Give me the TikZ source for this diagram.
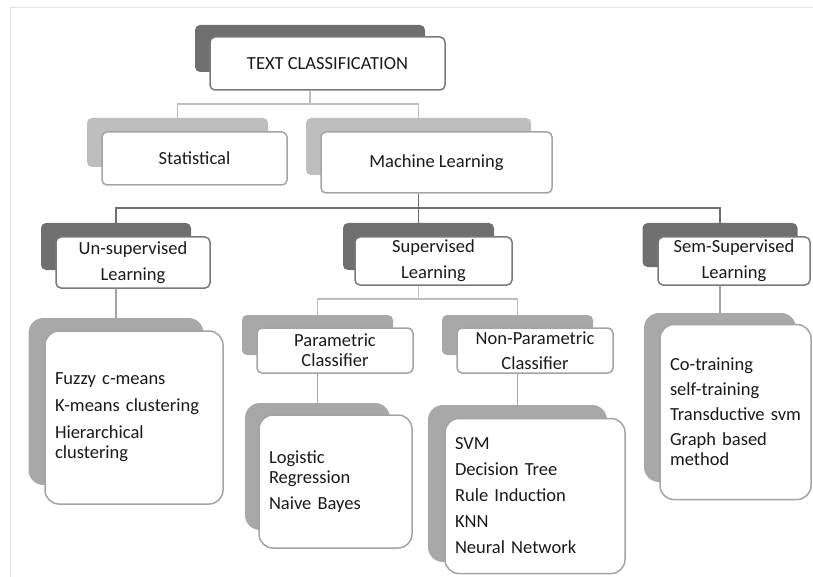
\documentclass[tikz,border=0pt]{standalone}
\usepackage{fontspec}
\setmainfont{Carlito}
\usetikzlibrary{calc}

\definecolor{darkback}{HTML}{6F6F6F}
\definecolor{lightback}{HTML}{BEBEBE}
\definecolor{midback}{HTML}{A8A8A8}
\definecolor{darkedge}{HTML}{7A7A7A}
\definecolor{lightedge}{HTML}{A4A4A4}
\definecolor{textgray}{HTML}{1A1A1A}
\definecolor{framegray}{HTML}{E2E2E2}

\tikzset{
  back/.style={fill=#1, draw=none, rounded corners=5pt, inner sep=0pt},
  front/.style={draw=#1, line width=1.5pt, fill=white, rounded corners=5pt, inner sep=0pt,
    align=center, text=textgray, font=\fontsize{18.5}{26}\selectfont},
  listbox/.style={front=lightedge, rounded corners=14pt, align=left, inner xsep=10pt,
    font=\fontsize{18.5}{20}\selectfont},
  lightline/.style={draw=lightback, line width=1.5pt},
  midline/.style={draw=lightedge, line width=1.5pt},
  darkline/.style={draw=darkback, line width=1.5pt}
}

\begin{document}
\begin{tikzpicture}[x=1pt, y=-1pt]
\useasboundingbox (0,0) rectangle (813,577);
\draw[framegray] (813,7) -- (10,7) -- (10,577);

% root
\node[back=darkback, minimum width=230pt, minimum height=47pt] (tcb) at (310,48.5) {};
\node[front=darkedge, minimum width=235pt, minimum height=53pt] (tc) at (327.5,63.5) {TEXT CLASSIFICATION};

% statistical and machine learning
\node[back=lightback, minimum width=181pt, minimum height=49pt] (statb) at (177.5,142.5) {};
\node[front=lightedge, minimum width=185pt, minimum height=53pt] (stat) at (194.5,158.5) {Statistical};
\node[back=lightback, minimum width=225pt, minimum height=57pt] (mlb) at (418.5,146.5) {};
\node[front=lightedge, minimum width=231pt, minimum height=61pt] (ml) at (436.5,162.5) {Machine Learning};

% learning types
\node[back=darkback, minimum width=150pt, minimum height=47pt] (unsupb) at (116,246.5) {};
\node[front=darkedge, minimum width=154pt, minimum height=51pt] (unsup) at (133,262.5) {Un-supervised\\Learning};
\node[back=darkback, minimum width=151pt, minimum height=47pt] (supb) at (418.5,246.5) {};
\node[front=darkedge, minimum width=157pt, minimum height=48pt] (sup) at (433.5,261) {Supervised\\Learning};
\node[back=darkback, minimum width=155pt, minimum height=44pt] (semb) at (720,245) {};
\node[front=darkedge, minimum width=152pt, minimum height=48pt] (sem) at (734,261) {Sem-Supervised\\Learning};

% classifiers
\node[back=midback, minimum width=151pt, minimum height=40pt] (paramb) at (317.5,335) {};
\node[front=lightedge, minimum width=156pt, minimum height=45pt, font=\fontsize{18.5}{20}\selectfont] (param) at (335,350.5) {Parametric\\Classifier};
\node[back=midback, minimum width=151pt, minimum height=40pt] (npb) at (517.5,335) {};
\node[front=lightedge, minimum width=156pt, minimum height=45pt, font=\fontsize{18.5}{25}\selectfont] (np) at (535,350.5) {Non-Parametric\\Classifier};

% method lists
\node[back=midback, rounded corners=15pt, minimum width=175pt, minimum height=167pt] (ulistb) at (116,401.5) {};
\node[listbox, minimum width=178pt, minimum height=173pt, text width=158pt] (ulist) at (134,417.5)
  {Fuzzy c-means\\[7pt]K-means clustering\\[7pt]Hierarchical\\clustering};
\node[back=midback, rounded corners=15pt, minimum width=145pt, minimum height=127pt] (plistb) at (317.5,466.5) {};
\node[listbox, minimum width=153pt, minimum height=133pt, text width=133pt] (plist) at (335.5,481.5)
  {Logistic\\Regression\\[6pt]Naive Bayes};
\node[back=midback, rounded corners=15pt, minimum width=179pt, minimum height=157pt] (nplistb) at (517.5,483.5) {};
\node[listbox, minimum width=180pt, minimum height=155pt, text width=160pt] (nplist) at (535,496)
  {SVM\\[6pt]Decision Tree\\[6pt]Rule Induction\\[6pt]KNN\\[6pt]Neural Network};
\node[back=midback, rounded corners=15pt, minimum width=152pt, minimum height=169pt] (slistb) at (720,397.5) {};
\node[listbox, minimum width=151pt, minimum height=175pt, text width=131pt] (slist) at (735.5,412)
  {Co-training\\[5pt]self-training\\[5pt]Transductive svm\\[5pt]Graph based\\method};

% connectors
\coordinate (tcbus) at (310,104);
\draw[lightline] (tcb |- tc.south) -- (tcbus);
\draw[lightline] (statb.north) |- (tcbus) -| (mlb.north);
\coordinate (mlbus) at (418.5,208);
\draw[darkline] (mlb |- ml.south) -- (mlbus) -- (supb.north);
\draw[darkline] (unsupb.north) |- (mlbus) -| (semb.north);
\coordinate (supbus) at (418.5,299);
\draw[lightline] (supb |- sup.south) -- (supbus);
\draw[lightline] (paramb.north) |- (supbus) -| (npb.north);
\draw[midline] (unsupb |- unsup.south) -- (ulistb.north);
\draw[midline] (paramb |- param.south) -- (plistb.north);
\draw[midline] (npb |- np.south) -- (nplistb.north);
\draw[midline] (semb |- sem.south) -- (slistb.north);
\end{tikzpicture}
\end{document}
